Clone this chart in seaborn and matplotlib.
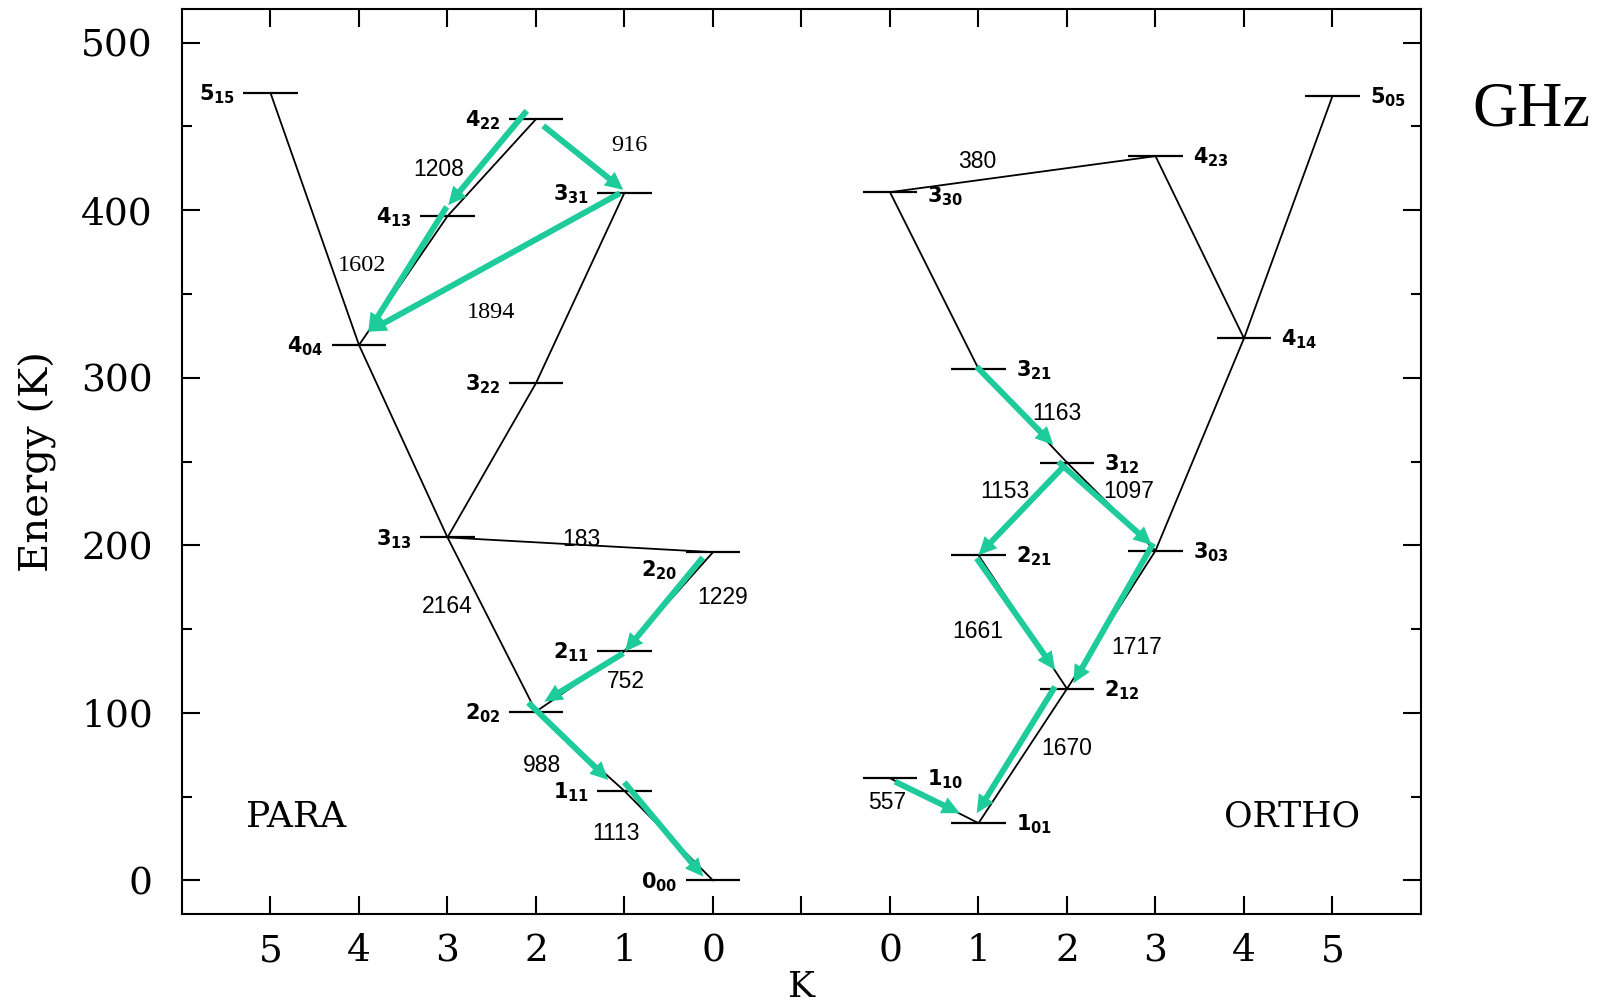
import numpy as np
import pandas as pd
import matplotlib
matplotlib.use("Agg")
import matplotlib.pyplot as plt
import seaborn as sns
from matplotlib.patches import FancyArrowPatch, ArrowStyle
from matplotlib.ticker import MultipleLocator, FixedLocator

# ---------------- data ----------------
para_names = ["0_00", "1_11", "2_02", "2_11", "2_20", "3_13", "3_22", "3_31", "4_04", "4_13", "4_22", "5_15"]
para_kc = [0, 1, 2, 1, 0, 3, 2, 1, 4, 3, 2, 5]
para_energy = [0.0, 53.4, 100.8, 136.9, 195.9, 204.7, 296.8, 410.4, 319.5, 396.4, 454.3, 469.9]

ortho_names = ["1_01", "1_10", "2_12", "2_21", "3_03", "3_12", "3_21", "4_14", "3_30", "4_23", "5_05"]
ortho_kc = [1, 0, 2, 1, 3, 2, 1, 4, 0, 3, 5]
ortho_energy = [34.2, 61.0, 114.4, 194.1, 196.8, 249.4, 305.3, 323.5, 410.7, 432.2, 468.1]

para_links = [("5_15", "4_04"), ("4_04", "3_13"), ("3_13", "2_02"), ("2_02", "1_11"),
              ("1_11", "0_00"), ("4_04", "4_13"), ("4_13", "4_22"), ("3_13", "3_22"),
              ("3_22", "3_31"), ("3_13", "2_20"), ("2_20", "2_11"), ("2_11", "2_02")]
ortho_links = [("3_30", "3_21"), ("3_21", "3_12"), ("3_12", "3_03"), ("3_12", "2_21"),
               ("2_21", "2_12"), ("3_03", "2_12"), ("2_12", "1_01"), ("1_10", "1_01"),
               ("3_03", "4_14"), ("4_14", "5_05"), ("4_14", "4_23"), ("4_23", "3_30")]

# observed transitions (upper, lower)
arrow_pairs = [("p", "4_22", "4_13"), ("p", "4_13", "4_04"), ("p", "4_22", "3_31"),
               ("p", "3_31", "4_04"), ("p", "2_20", "2_11"), ("p", "2_11", "2_02"),
               ("p", "2_02", "1_11"), ("p", "1_11", "0_00"),
               ("o", "3_21", "3_12"), ("o", "3_12", "2_21"), ("o", "3_12", "3_03"),
               ("o", "2_21", "2_12"), ("o", "3_03", "2_12"), ("o", "2_12", "1_01"),
               ("o", "1_10", "1_01")]

# transition frequency labels (GHz)
freq_sans = ["1208", "183", "1229", "2164", "752", "988", "1113",
             "380", "1163", "1153", "1097", "1661", "1717", "1670", "557"]
freq_serif = ["916", "1602", "1894"]

xtick_labels = ["5", "4", "3", "2", "1", "0", "", "0", "1", "2", "3", "4", "5"]
ytick_values = [0, 100, 200, 300, 400, 500]

# ---------------- layout / style (not data) ----------------
# arrow start/end offsets in pixels (dx, dy up) relative to level centres
arrow_offsets = [((-9.3, 8.3), (0.8, 11.0)), ((-0.8, 9.3), (9.3, 13.3)),
                 ((7.3, -6.7), (-1.2, 2.8)), ((-4.5, -0.5), (9.3, 13.3)),
                 ((-10.2, -5.3), (0.5, -0.6)), ((-1.2, -2.2), (8.3, 9.9)),
                 ((-7.7, 8.9), (-16.2, 11.0)), ((-0.2, 8.7), (-9.7, 3.8)),
                 ((-1.8, 2.1), (-13.7, 17.5)), ((-2.0, -2.5), (0.0, 0.0)),
                 ((-8.7, 0.8), (-3.8, 5.7)), ((-1.8, -3.1), (-12.0, 18.8)),
                 ((-2.2, 7.4), (6.3, 5.5)), ((-12.0, 2.1), (-1.8, 9.9)),
                 ((5.0, -3.4), (-18.5, 9.9))]
sans_pos = [(1.904, 425.7), (3.51, 205.1), (5.11, 170.3), (2.0, 164.7), (4.02, 120.4),
            (3.07, 70.0), (3.90, 29.6), (7.99, 430.3), (8.89, 280.4), (8.30, 233.3),
            (9.70, 233.3), (7.99, 150.0), (9.79, 140.3), (9.0, 80.1), (6.97, 48.3)]
serif_pos = [(4.054, 439.9), (1.04, 368.7), (2.49, 340.1)]
label_dy = {"2_20": -17.0, "3_30": -3.0}

GREEN = "#1DCB9B"
HALF = 0.31

sns.set_theme(style="ticks")
plt.rcParams["font.family"] = ["DejaVu Serif", "DejaVu Sans"]
plt.rcParams["mathtext.fontset"] = "dejavusans"
plt.rcParams["text.color"] = "black"
plt.rcParams["axes.labelcolor"] = "black"
plt.rcParams["xtick.color"] = "black"
plt.rcParams["ytick.color"] = "black"
plt.rcParams["axes.edgecolor"] = "black"

fig = plt.figure(figsize=(16.06, 10.07), dpi=100)
ax = fig.add_axes([182 / 1606, 1 - 914 / 1007, (1421 - 182) / 1606, (914 - 9) / 1007])
ax.set_xlim(-1, 13)
ax.set_ylim(-20, 520)

# level positions
lev = {}
for n, k, e in zip(para_names, para_kc, para_energy):
    lev[("p", n)] = (5 - k, e)
for n, k, e in zip(ortho_names, ortho_kc, ortho_energy):
    lev[("o", n)] = (7 + k, e)

# connecting lines via seaborn
rows = []
sid = 0
for sp, links in (("p", para_links), ("o", ortho_links)):
    for a, b in links:
        for n in (a, b):
            x, e = lev[(sp, n)]
            rows.append({"x": x, "E": e, "seg": sid})
        sid += 1
df = pd.DataFrame(rows)
sns.lineplot(data=df, x="x", y="E", units="seg", estimator=None, sort=False,
             color="black", linewidth=1.3, ax=ax, legend=False, zorder=2)

# energy levels
for (sp, n), (x, e) in lev.items():
    ax.hlines(e, x - HALF, x + HALF, color="black", linewidth=1.6, zorder=3)
    main, sub = n.split("_")
    txt = r"$\mathbf{%s_{%s}}$" % (main, sub)
    dy = (label_dy.get(n, 0.0) - 7.5) * 0.72
    if sp == "p":
        ax.annotate(txt, xy=(x - HALF, e), xytext=(-8 * 0.72, dy), textcoords="offset points",
                    ha="right", va="baseline", fontsize=15, color="black", zorder=5)
    else:
        ax.annotate(txt, xy=(x + HALF, e), xytext=(10 * 0.72, dy), textcoords="offset points",
                    ha="left", va="baseline", fontsize=15, color="black", zorder=5)

# arrows
def shifted(pt, off):
    X, Y = ax.transData.transform(pt)
    return tuple(ax.transData.inverted().transform((X + off[0], Y + off[1])))

style = ArrowStyle.Simple(head_length=13, head_width=12.5, tail_width=4.3)
for (sp, up, lo), (o1, o2) in zip(arrow_pairs, arrow_offsets):
    pa = shifted(lev[(sp, up)], o1)
    pb = shifted(lev[(sp, lo)], o2)
    ar = FancyArrowPatch(pa, pb, arrowstyle=style, mutation_scale=1, color=GREEN,
                         linewidth=0, shrinkA=0, shrinkB=0, zorder=4)
    ax.add_patch(ar)

# frequency labels
for t, (x, y) in zip(freq_sans, sans_pos):
    ax.text(x, y, t, fontsize=16.5, family="Liberation Sans", ha="center",
            va="center_baseline", color="black", zorder=6)
for t, (x, y) in zip(freq_serif, serif_pos):
    ax.text(x, y, t, fontsize=17.5, family="Liberation Serif", ha="center",
            va="center_baseline", color="black", zorder=6)

ax.text(0.29, 40, "PARA", fontsize=26, family="DejaVu Serif", ha="center",
        va="center_baseline", color="black")
ax.text(11.54, 40, "ORTHO", fontsize=25, family="DejaVu Serif", ha="center",
        va="center_baseline", color="black")
fig.text(1472 / 1606, 1 - 125.7 / 1007, "GHz", fontsize=45, family="Liberation Serif",
         ha="left", va="baseline", color="black")

# axes styling
ax.xaxis.set_major_locator(FixedLocator(list(range(len(xtick_labels)))))
ax.set_xticklabels(xtick_labels)
ax.yaxis.set_major_locator(FixedLocator(ytick_values))
ax.yaxis.set_minor_locator(MultipleLocator(50))
ax.set_yticklabels([str(v) for v in ytick_values])
for s in ax.spines.values():
    s.set_visible(True)
    s.set_linewidth(1.5)
    s.set_color("black")
ax.tick_params(axis="both", which="major", direction="in", length=13, width=1.5,
               top=True, right=True, labelsize=27, colors="black")
ax.tick_params(axis="y", which="minor", direction="in", length=7, width=1.5,
               left=True, right=True, colors="black")
ax.tick_params(axis="x", which="major", pad=14)
ax.tick_params(axis="y", which="major", pad=21)
for lab in ax.get_xticklabels() + ax.get_yticklabels():
    lab.set_family("DejaVu Serif")

ax.set_xlabel("K", fontsize=26, family="DejaVu Serif", color="black")
ax.set_ylabel("Energy (K)", fontsize=29, family="DejaVu Serif", color="black")
ax.xaxis.set_label_coords(0.5, -0.0615)
ax.yaxis.set_label_coords(-0.1005, 0.5)

fig.savefig("out.png", dpi=100)
